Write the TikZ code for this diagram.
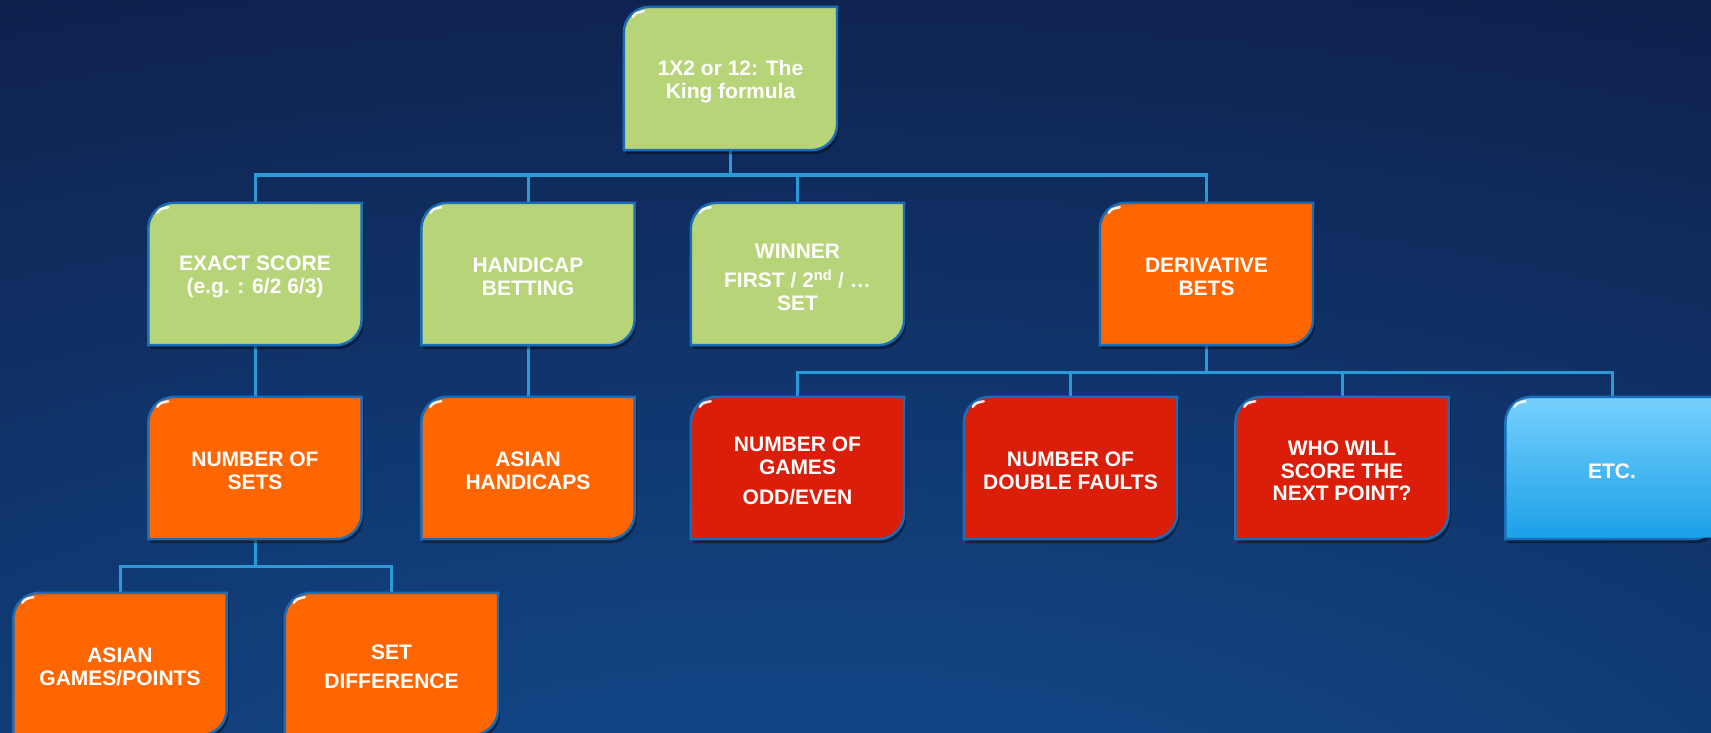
\documentclass[tikz,border=0pt]{standalone}
\usepackage{fontspec}
\setmainfont{Liberation Sans}
\usetikzlibrary{calc}
\definecolor{bgtop}{HTML}{0E1A43}
\definecolor{bgglow}{HTML}{124E92}
\definecolor{cgreen}{HTML}{B8D478}
\definecolor{corange}{HTML}{FF6600}
\definecolor{cred}{HTML}{DA1E0A}
\definecolor{cbluet}{HTML}{76D0FD}
\definecolor{cblueb}{HTML}{1CA0E8}
\definecolor{cborder}{HTML}{1A6DB6}
\definecolor{cline}{HTML}{2A9AD9}
\pgfdeclarelayer{bg}\pgfdeclarelayer{lines}\pgfdeclarelayer{boxes}
\pgfsetlayers{bg,lines,boxes,main}
\def\rr{26}
\def\up{3pt}
\begin{document}
\begin{tikzpicture}[x=1pt,y=-1pt,
 bnode/.style={minimum width=213pt,minimum height=142pt,inner sep=0pt,align=center,text=white,font=\bfseries\fontsize{21}{22.5}\selectfont},
 conn/.style={draw=cline,line width=3pt},
 boxborder/.style={draw=cborder,line width=2.5pt},
 shadowed/.style={preaction={fill=black,opacity=.4,draw=none,transform canvas={shift={(2pt,-4pt)}}}}]
\useasboundingbox (0,0) rectangle (1711,733);
\clip (0,0) rectangle (1711,733);
\begin{pgfonlayer}{bg}
\fill[bgtop] (0,0) rectangle (1711,733);
\shade[inner color=bgglow,outer color=bgtop] (800,900) ellipse [x radius=2600,y radius=1100];
\end{pgfonlayer}

% node centres sit 3pt below the box centres so the text lines up
\node[bnode,minimum height=143pt] (top) at (730.5,81.5) {1X2 or 12: The\\King formula};
\node[bnode] (exact) at (255,277) {EXACT SCORE\\(e.g. : 6/2 6/3)};
\node[bnode] (hand) at (528,277) {HANDICAP\\BETTING};
\node[bnode] (win) at (797.5,277) {WINNER\\[7pt]FIRST / 2\textsuperscript{nd} / …\\SET};
\node[bnode] (deriv) at (1206.5,277) {DERIVATIVE\\BETS};
\node[bnode] (sets) at (255,471) {NUMBER OF\\SETS};
\node[bnode] (asianh) at (528,471) {ASIAN\\HANDICAPS};
\node[bnode] (games) at (797.5,471) {NUMBER OF\\GAMES\\[8pt]ODD/EVEN};
\node[bnode] (faults) at (1070.5,471) {NUMBER OF\\DOUBLE FAULTS};
\node[bnode] (who) at (1342,471) {WHO WILL\\SCORE THE\\NEXT POINT?};
\node[bnode] (etc) at (1612,471) {ETC.};
\node[bnode] (asiang) at (120,667) {ASIAN\\GAMES/POINTS};
\node[bnode] (setdiff) at (391.5,667) {SET\\[7pt]DIFFERENCE};

\begin{pgfonlayer}{lines}
\coordinate (j1) at (730.5,175);
\draw[conn] ([yshift=\up]top.south) -- (j1);
\draw[conn] (exact.north) -- (exact.north |- j1) -- (deriv.north |- j1) -- (deriv.north);
\draw[conn] (hand.north) -- (hand.north |- j1);
\draw[conn] (win.north) -- (win.north |- j1);
\draw[conn] ([yshift=\up]exact.south) -- (sets.north);
\draw[conn] ([yshift=\up]hand.south) -- (asianh.north);
\coordinate (j2) at (1206.5,372);
\draw[conn] ([yshift=\up]deriv.south) -- (j2);
\draw[conn] (games.north) -- (games.north |- j2) -- (etc.north |- j2) -- (etc.north);
\draw[conn] (faults.north) -- (faults.north |- j2);
\draw[conn] (who.north) -- (who.north |- j2);
\coordinate (j3) at (255,566);
\draw[conn] ([yshift=\up]sets.south) -- (j3);
\draw[conn] (asiang.north) -- (asiang.north |- j3) -- (setdiff.north |- j3) -- (setdiff.north);
\end{pgfonlayer}

\begin{pgfonlayer}{boxes}
\foreach \n/\c in {top/cgreen,exact/cgreen,hand/cgreen,win/cgreen,deriv/corange,sets/corange,asianh/corange,games/cred,faults/cred,who/cred,etc/cblueb,asiang/corange,setdiff/corange}{
 \draw[boxborder,shadowed,fill=\c]
  ([yshift=\up]\n.south west) -- ($([yshift=\up]\n.north west)+(0,\rr)$)
  .. controls ($([yshift=\up]\n.north west)+(0,.45*\rr)$) and ($([yshift=\up]\n.north west)+(.45*\rr,0)$) .. ($([yshift=\up]\n.north west)+(\rr,0)$)
  -- ([yshift=\up]\n.north east) -- ($([yshift=\up]\n.south east)+(0,-\rr)$)
  .. controls ($([yshift=\up]\n.south east)+(0,-.45*\rr)$) and ($([yshift=\up]\n.south east)+(-.45*\rr,0)$) .. ($([yshift=\up]\n.south east)+(-\rr,0)$)
  -- cycle;
}
\shade[top color=cbluet,bottom color=cblueb]
  ($([yshift=\up]etc.south west)+(1.5,-1.5)$) -- ($([yshift=\up]etc.north west)+(1.5,\rr)$)
  .. controls ($([yshift=\up]etc.north west)+(1.5,.45*\rr)$) and ($([yshift=\up]etc.north west)+(.45*\rr,1.5)$) .. ($([yshift=\up]etc.north west)+(\rr,1.5)$)
  -- ($([yshift=\up]etc.north east)+(-1.5,1.5)$) -- ($([yshift=\up]etc.south east)+(-1.5,-1.5)$) -- cycle;
\foreach \n in {top,exact,hand,win,deriv,sets,asianh,games,faults,who,etc,asiang,setdiff}{
 \draw[white,line width=2.5pt,line cap=round,opacity=.9]
  ($([yshift=\up]\n.north west)+(9,10)$) .. controls ($([yshift=\up]\n.north west)+(12,6)$) .. ($([yshift=\up]\n.north west)+(20,4.5)$);
}
\end{pgfonlayer}
\end{tikzpicture}
\end{document}
